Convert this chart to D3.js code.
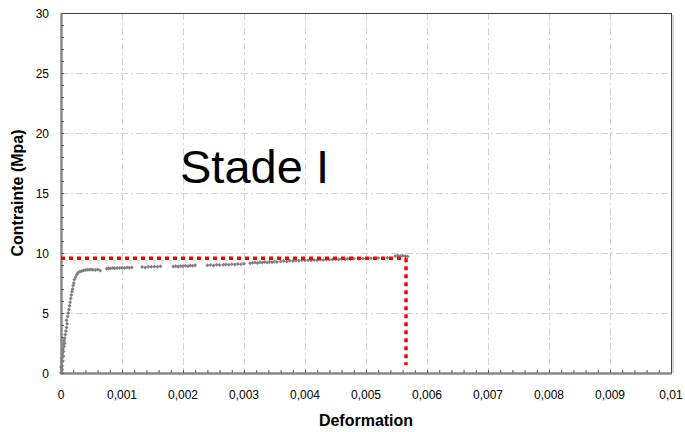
<!DOCTYPE html>
<html>
<head>
<meta charset="utf-8">
<script src="https://cdn.jsdelivr.net/npm/d3@7"></script>
<style>
  html, body { margin: 0; padding: 0; background: #fff; }
  svg { display: block; font-family: "Liberation Sans", Arial, sans-serif; }
</style>
</head>
<body>
<svg id="chart" width="685" height="432"></svg>
<script>
// Measured strain (deformation) values
const strain = [
  0.00000, 0.00001, 0.00002, 0.00000, 0.00002, 0.00001, 0.00003, 0.00001, 0.00004, 0.00002,
  0.00004, 0.00003, 0.00005, 0.00004, 0.00006, 0.00005, 0.00006, 0.00007, 0.00008, 0.00009,
  0.00010, 0.00009, 0.00011, 0.00012, 0.00013, 0.00014, 0.00015, 0.00016, 0.00017, 0.00018,
  0.00019, 0.00020, 0.00021, 0.00022, 0.00024, 0.00026, 0.00028, 0.00031, 0.00034, 0.00037,
  0.00040, 0.00043, 0.00046, 0.00049, 0.00052, 0.00056, 0.00060, 0.00064,
  0.00075, 0.00078, 0.00081, 0.00085, 0.00088, 0.00092, 0.00096, 0.00100, 0.00104, 0.00108, 0.00112, 0.00116,
  0.00133, 0.00138, 0.00143, 0.00148, 0.00153, 0.00158, 0.00163,
  0.00184, 0.00188, 0.00192, 0.00196, 0.00200, 0.00204, 0.00208, 0.00212, 0.00216, 0.00220,
  0.00240, 0.00245, 0.00250, 0.00255, 0.00260, 0.00266, 0.00270, 0.00275, 0.00280, 0.00285, 0.00290, 0.00295, 0.00300,
  0.00310, 0.00314, 0.00318, 0.00322, 0.00326, 0.00330, 0.00334, 0.00338, 0.00342, 0.00346, 0.00350, 0.00354,
  0.00360, 0.00365, 0.00370, 0.00375, 0.00380, 0.00385, 0.00390, 0.00395, 0.00400, 0.00405, 0.00410, 0.00415,
  0.00420, 0.00425, 0.00430, 0.00435, 0.00440,
  0.00445, 0.00450, 0.00455, 0.00460, 0.00466, 0.00470, 0.00475, 0.00480, 0.00488, 0.00495, 0.00500, 0.00508,
  0.00515, 0.00520, 0.00528, 0.00535,
  0.00548, 0.00552, 0.00556, 0.00560, 0.00564, 0.00568
];

// Measured stress (contrainte, MPa) for each strain value
const stress = [
  0.0, 0.1, 0.3, 0.5, 0.6, 0.9, 1.0, 1.2, 1.4, 1.6,
  1.8, 2.0, 2.2, 2.4, 2.5, 2.7, 2.9, 3.2, 3.5, 3.8,
  4.1, 4.4, 4.7, 5.0, 5.3, 5.6, 5.9, 6.2, 6.5, 6.8,
  7.0, 7.3, 7.5, 7.8, 8.0, 8.2, 8.35, 8.45, 8.5, 8.55,
  8.58, 8.6, 8.6, 8.62, 8.6, 8.58, 8.62, 8.55,
  8.68, 8.72, 8.70, 8.75, 8.72, 8.76, 8.74, 8.78, 8.75, 8.80, 8.77, 8.80,
  8.84, 8.80, 8.86, 8.85, 8.88, 8.86, 8.90,
  8.88, 8.90, 8.86, 8.92, 8.90, 8.94, 8.90, 8.96, 8.93, 8.98,
  8.98, 9.00, 8.96, 9.02, 9.00, 9.03, 9.05, 9.02, 9.07, 9.05, 9.08, 9.06, 9.10,
  9.15, 9.18, 9.20, 9.17, 9.22, 9.20, 9.24, 9.21, 9.25, 9.22, 9.27, 9.24,
  9.30, 9.33, 9.30, 9.36, 9.34, 9.38, 9.35, 9.40, 9.37, 9.40, 9.38, 9.42,
  9.40, 9.44, 9.41, 9.45, 9.43,
  9.46, 9.48, 9.45, 9.50, 9.48, 9.52, 9.50, 9.54, 9.52, 9.55, 9.53, 9.57,
  9.55, 9.58, 9.56, 9.60,
  9.72, 9.80, 9.75, 9.78, 9.74, 9.70
];

// Limit of stage I: peak stress and matching strain
const limitStress = 9.56;
const limitStrain = 0.005656;
const limitBase = 0.67;

// Axis ticks and labels
const xTicks = [0, 0.001, 0.002, 0.003, 0.004, 0.005, 0.006, 0.007, 0.008, 0.009, 0.01];
const xTickLabels = ["0", "0,001", "0,002", "0,003", "0,004", "0,005", "0,006", "0,007", "0,008", "0,009", "0,01"];
const yTicks = [0, 5, 10, 15, 20, 25, 30];
const yTickLabels = ["0", "5", "10", "15", "20", "25", "30"];

const xTitle = "Deformation";
const yTitle = "Contrainte (Mpa)";
const annotation = "Stade I";

const svg = d3.select("#chart");
const m = { left: 61, right: 14, top: 13, bottom: 59 };
const W = 685, H = 432;

const x = d3.scaleLinear().domain([0, 0.01]).range([m.left, W - m.right]);
const y = d3.scaleLinear().domain([0, 30]).range([H - m.bottom, m.top]);

// Dash-dot grid at major ticks
const grid = svg.append("g").attr("stroke", "#d2d2d2").attr("stroke-width", 1)
  .attr("stroke-dasharray", "7,3,2,3");
grid.selectAll(".gx").data(xTicks.slice(1, -1)).join("line")
  .attr("x1", d => Math.round(x(d)) + 0.5).attr("x2", d => Math.round(x(d)) + 0.5)
  .attr("y1", y(30)).attr("y2", y(0));
grid.selectAll(".gy").data(yTicks.slice(1, -1)).join("line")
  .attr("y1", d => Math.round(y(d)) + 0.5).attr("y2", d => Math.round(y(d)) + 0.5)
  .attr("x1", x(0)).attr("x2", x(0.01));

// Plot frame with light shadow on the right
svg.append("line").attr("x1", x(0.01) + 2).attr("x2", x(0.01) + 2)
  .attr("y1", y(30) + 2).attr("y2", y(0)).attr("stroke", "#d8d8d8").attr("stroke-width", 2);
svg.append("rect").attr("x", x(0) + 0.5).attr("y", y(30) + 0.5)
  .attr("width", x(0.01) - x(0)).attr("height", y(0) - y(30))
  .attr("fill", "none").attr("stroke", "#404040").attr("stroke-width", 1);

// Axes (ticks pointing inward)
const xAxis = d3.axisBottom(x).tickValues(d3.range(0, 51).map(i => i * 0.0002))
  .tickSizeInner(-3).tickSizeOuter(0).tickFormat("");
const gx = svg.append("g").attr("transform", `translate(0,${y(0)})`).call(xAxis);
gx.select(".domain").attr("stroke", "#888").attr("stroke-width", 2.5);
gx.selectAll(".tick line").attr("stroke", "#555");

const yAxis = d3.axisLeft(y).tickValues(d3.range(0, 31))
  .tickSizeInner(-3).tickSizeOuter(0).tickFormat("");
const gy = svg.append("g").attr("transform", `translate(${x(0)},0)`).call(yAxis);
gy.select(".domain").attr("stroke", "#888").attr("stroke-width", 2.5);
gy.selectAll(".tick line").attr("stroke", "#555");

// Tick labels
svg.append("g").selectAll("text").data(xTicks).join("text")
  .attr("x", d => x(d)).attr("y", y(0) + 26)
  .attr("text-anchor", "middle").attr("font-size", 12).attr("fill", "#000")
  .text((d, i) => xTickLabels[i]);
svg.append("g").selectAll("text").data(yTicks).join("text")
  .attr("x", x(0) - 12).attr("y", d => y(d) + 4.5)
  .attr("text-anchor", "end").attr("font-size", 12).attr("fill", "#000")
  .text((d, i) => yTickLabels[i]);

// Axis titles
svg.append("text").attr("x", (x(0) + x(0.01)) / 2).attr("y", 426)
  .attr("text-anchor", "middle").attr("font-size", 16).attr("font-weight", "bold")
  .text(xTitle);
svg.append("text").attr("transform", `translate(23,${(y(0) + y(30)) / 2}) rotate(-90)`)
  .attr("text-anchor", "middle").attr("font-size", 16).attr("font-weight", "bold")
  .text(yTitle);

// Measured points
const pts = strain.map((s, i) => [s, stress[i]]);
svg.append("g").attr("fill", "#808080").selectAll("path").data(pts).join("path")
  .attr("transform", d => `translate(${x(d[0])},${y(d[1])})`)
  .attr("d", "M0,-2L2,0L0,2L-2,0Z");

// Stage I limit lines (red dotted)
const red = svg.append("g").attr("stroke", "#ff0000").attr("stroke-width", 3.5)
  .attr("stroke-dasharray", "4,4").attr("fill", "none");
red.append("line").attr("x1", x(0)).attr("x2", x(limitStrain))
  .attr("y1", y(limitStress)).attr("y2", y(limitStress));
red.append("line").attr("x1", x(limitStrain)).attr("x2", x(limitStrain))
  .attr("y1", y(limitStress)).attr("y2", y(limitBase));

// Annotation
svg.append("text").attr("x", 180).attr("y", 183).attr("font-size", 47)
  .attr("fill", "#000").text(annotation);
</script>
</body>
</html>
